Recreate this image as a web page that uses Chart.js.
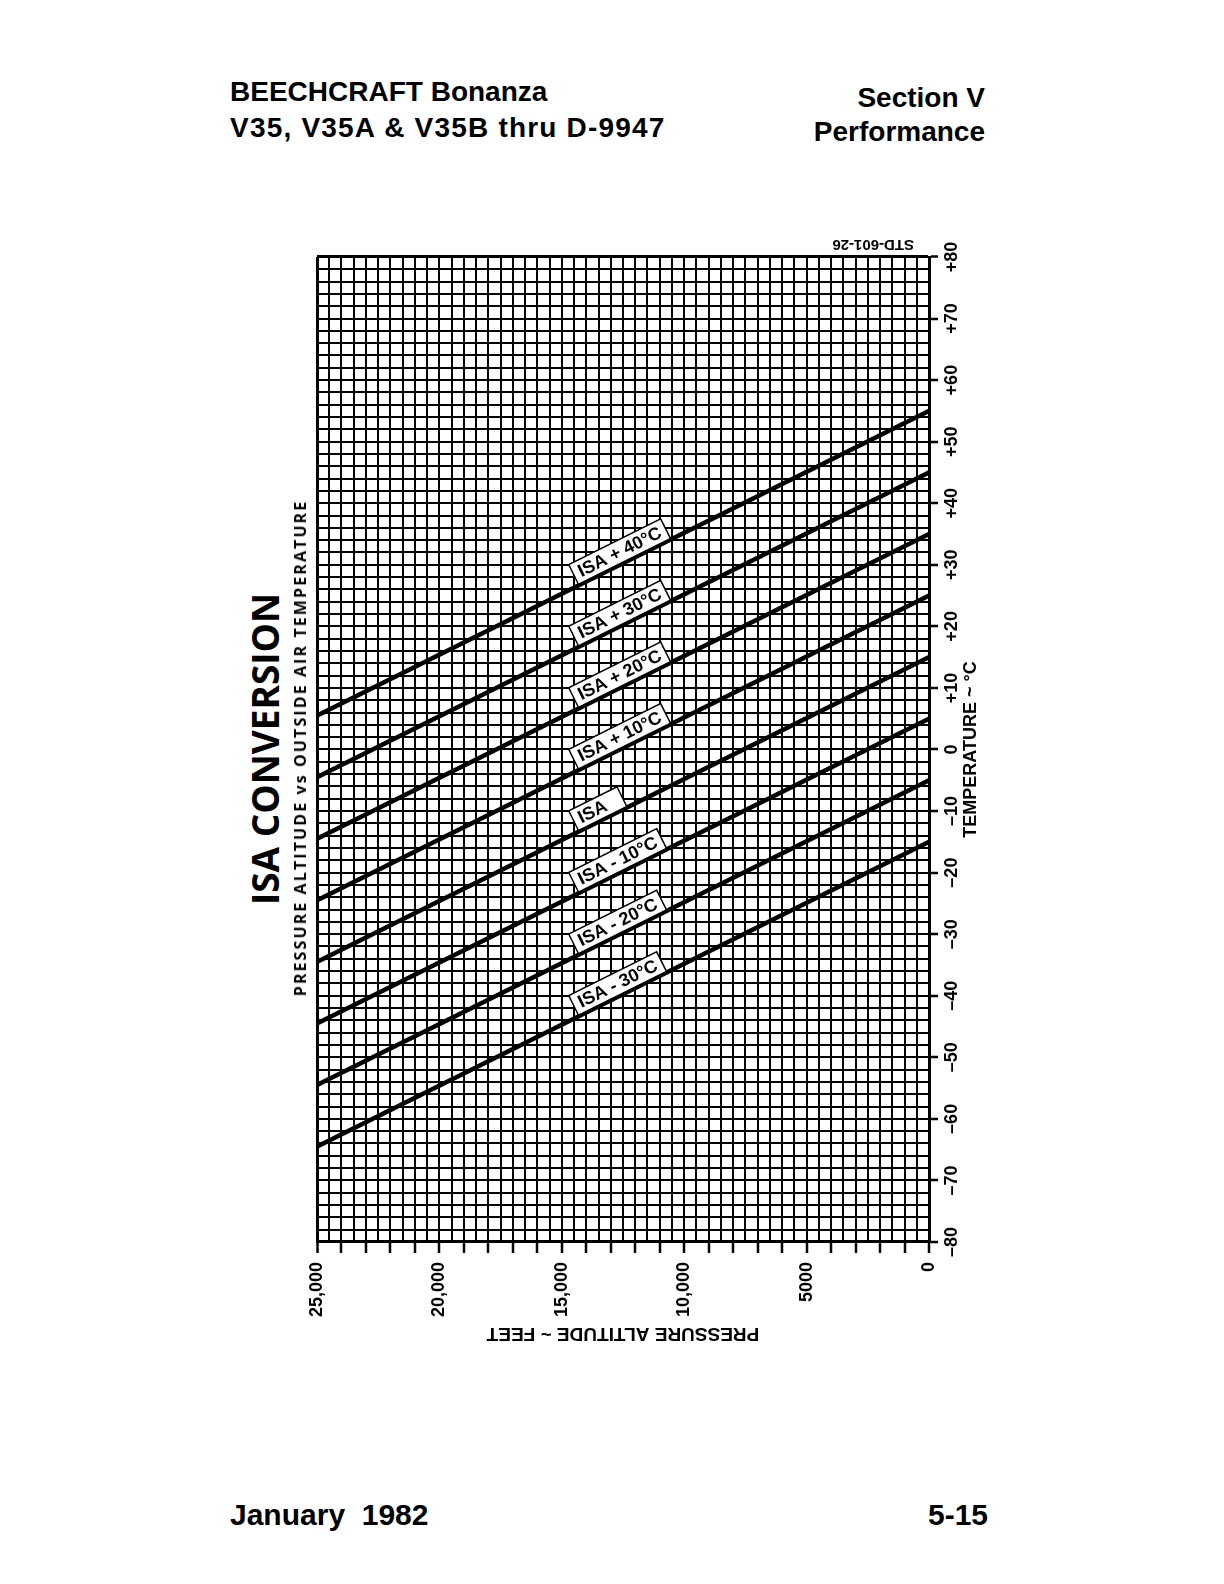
<!DOCTYPE html>
<html>
<head>
<meta charset="utf-8">
<script src="https://cdn.jsdelivr.net/npm/chart.js@4.4.0/dist/chart.umd.min.js"></script>
<style>
html, body { margin: 0; padding: 0; background: #fff; }
body { width: 1224px; height: 1584px; position: relative; overflow: hidden; font-family: "Liberation Sans", Arial, sans-serif; color: #000; }
.txt { position: absolute; font-weight: bold; font-size: 28px; white-space: nowrap; }
.vtitle { position: absolute; white-space: nowrap; font-weight: bold; font-family: "Open Sans", sans-serif; transform: translate(-50%, -50%) rotate(-90deg); }
/* the chart is drawn upright and then turned a quarter turn, like the printed page */
#plotBox { position: absolute; left: 295px; top: 225px; width: 700px; height: 1120px; }
#rotor { position: absolute; left: 0; top: 0; width: 1120px; height: 700px; transform-origin: 0 0; transform: translate(0, 1120px) rotate(-90deg); }
</style>
</head>
<body>

<div class="txt" style="left:230px; top:74px; line-height:36px;">BEECHCRAFT Bonanza<br><span style="letter-spacing:1.2px;">V35, V35A &amp; V35B thru D-9947</span></div>
<div class="txt" style="right:239px; top:81px; line-height:34px; text-align:right;">Section V<br>Performance</div>

<div id="plotBox">
  <div id="rotor"><canvas id="isaChart" width="1120" height="700"></canvas></div>
</div>

<div class="vtitle" style="left:264px; top:749px; font-size:37px;">ISA CONVERSION</div>
<div class="vtitle" style="left:300px; top:748px; font-size:16px; letter-spacing:2.1px;">PRESSURE ALTITUDE vs OUTSIDE AIR TEMPERATURE</div>

<div class="txt" style="left:230px; top:1499px; line-height:32px; font-size:30px;">January&nbsp; 1982</div>
<div class="txt" style="right:236px; top:1499px; line-height:32px; font-size:30px;">5-15</div>

<script>
// pressure altitude (ft) where each line was read
var altitudeFt = [0, 25000];

// temperature (deg C) of each line at those altitudes
var isaPlus40  = [55, 5.5];
var isaPlus30  = [45, -4.5];
var isaPlus20  = [35, -14.5];
var isaPlus10  = [25, -24.5];
var isaStd     = [15, -34.5];
var isaMinus10 = [5, -44.5];
var isaMinus20 = [-5, -54.5];
var isaMinus30 = [-15, -64.5];

var seriesNames = ['ISA + 40°C', 'ISA + 30°C', 'ISA + 20°C', 'ISA + 10°C', 'ISA', 'ISA - 10°C', 'ISA - 20°C', 'ISA - 30°C'];
var seriesTemps = [isaPlus40, isaPlus30, isaPlus20, isaPlus10, isaStd, isaMinus10, isaMinus20, isaMinus30];

// tick labels
var tempTickValues = [-80, -70, -60, -50, -40, -30, -20, -10, 0, 10, 20, 30, 40, 50, 60, 70, 80];
var tempTickLabels = ['–80', '–70', '–60', '–50', '–40', '–30', '–20', '–10', '0', '+10', '+20', '+30', '+40', '+50', '+60', '+70', '+80'];
var altTickValues = [0, 5000, 10000, 15000, 20000, 25000];
var altTickLabels = ['0', '5000', '10,000', '15,000', '20,000', '25,000'];

var FONT = '"Liberation Sans", Arial, sans-serif';

var datasets = seriesTemps.map(function (temps, i) {
  return {
    label: seriesNames[i],
    data: altitudeFt.map(function (alt, j) { return { x: temps[j], y: alt }; }),
    showLine: true,
    borderColor: '#000',
    borderWidth: 4.5,
    pointRadius: 0,
    fill: false
  };
});

// boxed labels sitting on each line + the drawing number
var lineLabels = {
  id: 'lineLabels',
  afterDatasetsDraw: function (chart) {
    var ctx = chart.ctx;
    var xs = chart.scales.x, ys = chart.scales.y;
    var anchorAlt = 14300;
    ctx.save();
    ctx.font = 'bold 18px ' + FONT;
    chart.data.datasets.forEach(function (ds) {
      var p0 = ds.data[0], p1 = ds.data[1];
      var t = (anchorAlt - p0.y) / (p1.y - p0.y);
      var temp = p0.x + t * (p1.x - p0.x);
      var px = xs.getPixelForValue(temp), py = ys.getPixelForValue(anchorAlt);
      var ang = Math.atan2(ys.getPixelForValue(p0.y) - ys.getPixelForValue(p1.y),
                           xs.getPixelForValue(p0.x) - xs.getPixelForValue(p1.x));
      var pad = 6, h = 22;
      var w = ctx.measureText(ds.label).width + pad * 2;
      if (ds.label === 'ISA') w += 12;
      ctx.save();
      ctx.translate(px, py);
      ctx.rotate(ang);
      ctx.fillStyle = '#fff';
      ctx.fillRect(0, -h - 1, w, h);
      ctx.strokeStyle = '#000';
      ctx.lineWidth = 1.5;
      ctx.strokeRect(0, -h - 1, w, h);
      ctx.fillStyle = '#000';
      ctx.textAlign = 'left';
      ctx.textBaseline = 'middle';
      ctx.fillText(ds.label, pad, -1 - h / 2 + 1);
      ctx.restore();
    });
    ctx.save();
    ctx.translate(1101, 619);
    ctx.rotate(-Math.PI / 2);
    ctx.font = 'bold 15px ' + FONT;
    ctx.fillStyle = '#000';
    ctx.textAlign = 'left';
    ctx.textBaseline = 'middle';
    ctx.fillText('STD-601-26', 0, 0);
    ctx.restore();
    ctx.restore();
  }
};

new Chart(document.getElementById('isaChart').getContext('2d'), {
  type: 'scatter',
  data: { datasets: datasets },
  plugins: [lineLabels],
  options: {
    responsive: false,
    animation: false,
    layout: { padding: { left: 0, right: 32, top: 22, bottom: 0 } },
    plugins: { legend: { display: false }, tooltip: { enabled: false } },
    scales: {
      x: {
        type: 'linear', position: 'bottom', min: -80, max: 80,
        ticks: {
          stepSize: 2, autoSkip: false, maxRotation: 0, minRotation: 0, padding: 3,
          color: '#000', font: { family: FONT, size: 18, weight: 'bold' },
          callback: function (v) { var i = tempTickValues.indexOf(v); return i >= 0 ? tempTickLabels[i] : ''; }
        },
        grid: {
          color: '#000',
          lineWidth: function (c) { return c.tick && (c.tick.value === 80) ? 3 : 2; },
          tickLength: 9, tickWidth: 2.5,
          tickColor: function (c) { return c.tick && c.tick.value % 10 === 0 ? '#000' : 'rgba(0,0,0,0)'; }
        },
        border: { display: true, color: '#000', width: 3 },
        title: { display: true, text: 'TEMPERATURE ~ °C', color: '#000', font: { family: FONT, size: 18, weight: 'bold' }, padding: { top: 0, bottom: 13 } },
        afterFit: function (s) { s.height = 66; }
      },
      y: {
        type: 'linear', position: 'left', min: 0, max: 25000,
        ticks: {
          stepSize: 500, autoSkip: false, padding: 9,
          color: '#000', font: { family: FONT, size: 18, weight: 'bold' },
          callback: function (v) { var i = altTickValues.indexOf(v); return i >= 0 ? altTickLabels[i] : ''; }
        },
        grid: {
          color: '#000',
          lineWidth: function (c) { return c.tick && (c.tick.value === 25000) ? 3 : 2; },
          tickLength: 11, tickWidth: 2.5,
          tickColor: function (c) { return c.tick && c.tick.value % 1000 === 0 ? '#000' : 'rgba(0,0,0,0)'; }
        },
        border: { display: true, color: '#000', width: 3 },
        title: { display: true, text: 'PRESSURE ALTITUDE ~ FEET', color: '#000', font: { family: FONT, size: 19, weight: 'bold' }, padding: { top: 0, bottom: 0 } },
        afterFit: function (s) { s.width = 103; }
      }
    }
  }
});
</script>
</body>
</html>
